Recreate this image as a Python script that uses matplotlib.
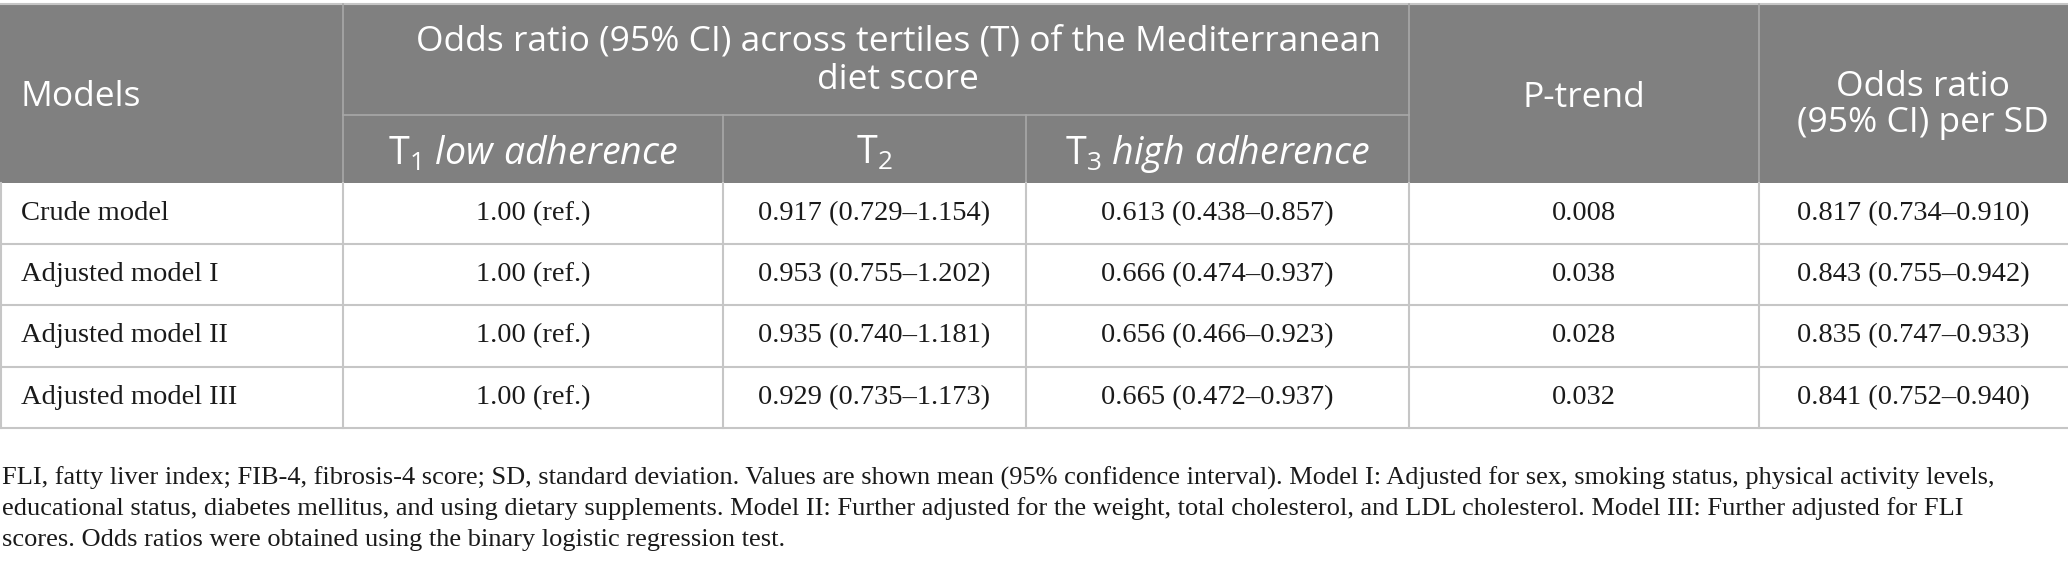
import matplotlib.pyplot as plt
from matplotlib.patches import Rectangle

plt.rcParams['mathtext.fontset'] = 'custom'
plt.rcParams['mathtext.rm'] = 'Open Sans'
plt.rcParams['mathtext.it'] = 'Open Sans:italic'

# table content
models = ["Crude model", "Adjusted model I", "Adjusted model II", "Adjusted model III"]
t1_values = ["1.00 (ref.)", "1.00 (ref.)", "1.00 (ref.)", "1.00 (ref.)"]
t2_values = ["0.917 (0.729–1.154)", "0.953 (0.755–1.202)", "0.935 (0.740–1.181)", "0.929 (0.735–1.173)"]
t3_values = ["0.613 (0.438–0.857)", "0.666 (0.474–0.937)", "0.656 (0.466–0.923)", "0.665 (0.472–0.937)"]
p_trend = ["0.008", "0.038", "0.028", "0.032"]
per_sd = ["0.817 (0.734–0.910)", "0.843 (0.755–0.942)", "0.835 (0.747–0.933)", "0.841 (0.752–0.940)"]

span_header = "Odds ratio (95% CI) across tertiles (T) of the Mediterranean\ndiet score"
sub_headers = [r"T$_1$ $\mathit{low\ adherence}$", r"T$_2$", r"T$_3$ $\mathit{high\ adherence}$"]

footnote = [
    "FLI, fatty liver index; FIB-4, fibrosis-4 score; SD, standard deviation. Values are shown mean (95% confidence interval). Model I: Adjusted for sex, smoking status, physical activity levels,",
    "educational status, diabetes mellitus, and using dietary supplements. Model II: Further adjusted for the weight, total cholesterol, and LDL cholesterol. Model III: Further adjusted for FLI",
    "scores. Odds ratios were obtained using the binary logistic regression test.",
]

# layout in pixels
W, H = 2068, 581
col_x = [0, 343, 723, 1026, 1409, 1759, 2068]
head_top, head_mid, head_bot = 4, 115, 183
row_h = 61.2
hdr_color = "#808080"
grid_color = "#c6c6c6"
hdr_line = "#a8a8a8"

fig = plt.figure(figsize=(W / 100, H / 100), dpi=100)
ax = fig.add_axes([0, 0, 1, 1])
ax.set_xlim(0, W)
ax.set_ylim(H, 0)
ax.axis("off")

# header background
ax.add_patch(Rectangle((0, head_top), W, head_bot - head_top, color=hdr_color, lw=0))
ax.plot([0, W], [head_top, head_top], color=grid_color, lw=1.5)
for x in col_x[1:-1]:
    if x in (col_x[2], col_x[3]):
        ax.plot([x, x], [head_mid, head_bot], color=hdr_line, lw=1.2)
    else:
        ax.plot([x, x], [head_top, head_bot], color=hdr_line, lw=1.2)
ax.plot([col_x[1], col_x[4]], [head_mid, head_mid], color=hdr_line, lw=1.2)

hfont = dict(family="Open Sans", color="white", fontsize=25.5)
ax.text(21, 97, "Models", ha="left", va="center", **hfont)
ax.text((col_x[1] + col_x[4]) / 2 + 22, 61, span_header, ha="center", va="center",
        linespacing=1.17, **hfont)
for i, lab in enumerate(sub_headers):
    ax.text((col_x[i + 1] + col_x[i + 2]) / 2, 154, lab, ha="center", va="center",
            family="Open Sans", color="white", fontsize=27)
ax.text((col_x[4] + col_x[5]) / 2, 98, "P-trend", ha="center", va="center", **hfont)
ax.text((col_x[5] + col_x[6]) / 2 + 9, 105, "Odds ratio\n(95% CI) per SD", ha="center", va="center",
        linespacing=1.06, **hfont)

# body rows
bfont = dict(family="Liberation Serif", color="#1a1a1a", fontsize=20.5)
columns = [t1_values, t2_values, t3_values, p_trend, per_sd]
for r, name in enumerate(models):
    top = head_bot + r * row_h
    cy = top + row_h / 2
    ax.text(21, cy, name, ha="left", va="center", **bfont)
    for c, vals in enumerate(columns):
        ax.text((col_x[c + 1] + col_x[c + 2]) / 2, cy, vals[r], ha="center", va="center", **bfont)
    ax.plot([0, W], [top + row_h, top + row_h], color=grid_color, lw=1.5)

table_bot = head_bot + len(models) * row_h
for x in col_x[:-1]:
    xx = x + 0.7 if x == 0 else x
    ax.plot([xx, xx], [head_bot, table_bot], color=grid_color, lw=1.5)

# footnote
for i, line in enumerate(footnote):
    ax.text(2, 478 + i * 31, line, ha="left", va="center",
            family="Liberation Serif", color="#1a1a1a", fontsize=19)

fig.savefig("out.png", dpi=100)
